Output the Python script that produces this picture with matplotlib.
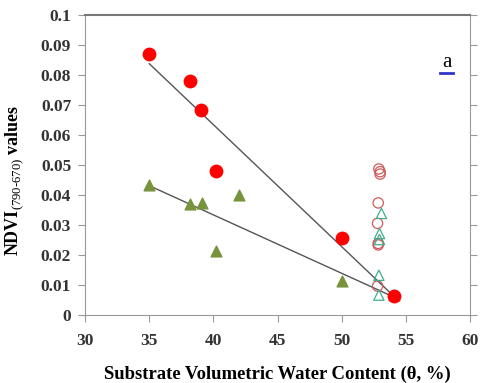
import numpy as np
import matplotlib
matplotlib.use("Agg")
import matplotlib.pyplot as plt

# filled red circles (with trend line)
red_x = [35, 38.2, 39, 40.2, 50, 54.1]
red_y = [0.087, 0.078, 0.0685, 0.048, 0.0257, 0.0065]

# filled green triangles (with trend line)
green_x = [35, 38.2, 39.1, 40.2, 42, 50, 54.1]
green_y = [0.0435, 0.0372, 0.0375, 0.0213, 0.040, 0.0114, 0.0068]

# open circles / open triangles near 53 %
ored_x = [52.9, 53.0, 53.0, 52.85, 52.8, 52.85, 52.85, 52.8]
ored_y = [0.0487, 0.0478, 0.047, 0.0374, 0.0306, 0.0239, 0.0234, 0.0097]
ogreen_x = [53.1, 52.95, 52.95, 52.9, 52.9]
ogreen_y = [0.0339, 0.0272, 0.0252, 0.0133, 0.0067]

plt.rcParams['font.family'] = ['Liberation Serif', 'DejaVu Serif']
plt.rcParams['mathtext.fontset'] = 'custom'
plt.rcParams['mathtext.rm'] = 'Liberation Serif'
plt.rcParams['mathtext.bf'] = 'Liberation Serif:bold'

fig = plt.figure(figsize=(4.81, 3.83), dpi=100)
ax = fig.add_axes([0.177, 0.177, 0.8, 0.784])

# trend lines
for xs, ys in [(red_x, red_y), (green_x, green_y)]:
    k, b = np.polyfit(xs, ys, 1)
    lx = np.array([min(xs), max(xs)])
    ax.plot(lx, k * lx + b, color='#555555', lw=1.0, zorder=2)

ax.scatter(ored_x, ored_y, s=55, facecolors='none', edgecolors='#d05a5a', linewidths=0.9, zorder=3)
ax.scatter(ogreen_x, ogreen_y, marker='^', s=55, facecolors='none', edgecolors='#3fae8c', linewidths=0.9, zorder=3)
ax.scatter(green_x, green_y, marker='^', s=60, color='#77933c', zorder=4)
ax.scatter(red_x, red_y, s=80, color='#ff0000', zorder=5)

ax.set_xlim(30, 60)
ax.set_ylim(0, 0.1)
ax.set_xticks([30, 35, 40, 45, 50, 55, 60])
ax.set_yticks([0, 0.01, 0.02, 0.03, 0.04, 0.05, 0.06, 0.07, 0.08, 0.09, 0.1])
ax.set_yticklabels(['0', '0.01', '0.02', '0.03', '0.04', '0.05', '0.06', '0.07', '0.08', '0.09', '0.1'])

for lab in ax.get_xticklabels() + ax.get_yticklabels():
    lab.set_fontweight('bold')
    lab.set_fontsize(12.5)
    lab.set_color('#333333')

ax.tick_params(direction='out', length=5, color='#999999', pad=5)
ax.tick_params(axis='x', pad=8)
ax.tick_params(axis='y', right=True, labelright=False)
for s in ax.spines.values():
    s.set_color('#999999')
ax.spines['top'].set_color('#777777')
ax.spines['top'].set_linewidth(1.5)

ax.set_xlabel('Substrate Volumetric Water Content (\u03b8, %)', fontsize=13.4, fontweight='bold', labelpad=12)
ax.set_ylabel(r'NDVI$_{\mathrm{(790\text{-}670)}}$ values', fontsize=13, fontweight='bold')
ax.yaxis.set_label_coords(-0.155, 0.45)

ax.text(58.2, 0.081, 'a', fontsize=15, color='black', ha='center', va='bottom')
ax.plot([57.7, 58.7], [0.0808, 0.0808], color='#3333cc', lw=2, clip_on=False)

fig.savefig('out.png', dpi=100)
